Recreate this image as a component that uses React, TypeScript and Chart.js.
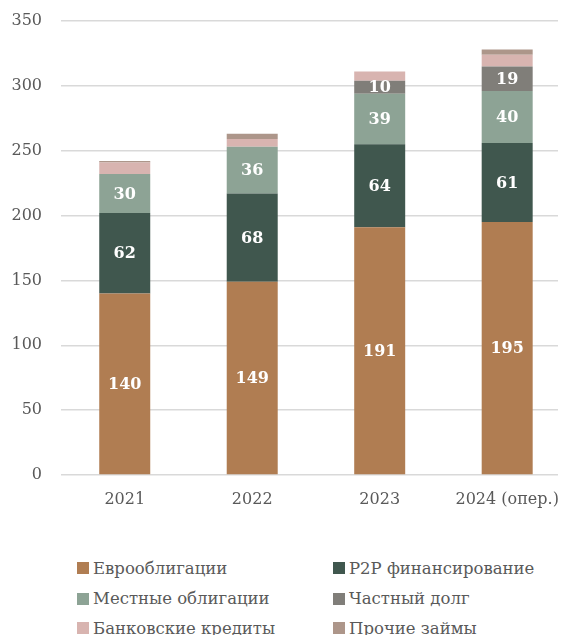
import React, { useEffect, useRef } from "react";
import { Chart, registerables } from "chart.js";

Chart.register(...registerables);

const categories = ["2021", "2022", "2023", "2024 (опер.)"];
const seriesNames = [
  "Еврооблигации",
  "P2P финансирование",
  "Местные облигации",
  "Частный долг",
  "Банковские кредиты",
  "Прочие займы",
];
const eurobonds = [140, 149, 191, 195];
const p2p = [62, 68, 64, 61];
const localBonds = [30, 36, 39, 40];
const privateDebt = [0, 0, 10, 19];
const bankLoans = [9, 6, 7, 9];
const otherLoans = [1, 4, 0, 4];
const seriesColors = ["#B07D52", "#40574E", "#8DA395", "#807E79", "#D8B4B0", "#AD968A"];
const yMin = 0;
const yMax = 350;
const yStep = 50;
const labelThreshold = 10;

const FONT = "'DejaVu Serif', serif";

const legendOrder = [0, 1, 2, 3, 4, 5];

const valueLabels = {
  id: "valueLabels",
  afterDatasetsDraw(chart: any) {
    const ctx = chart.ctx;
    ctx.save();
    ctx.font = `bold 16px ${FONT}`;
    ctx.fillStyle = "#ffffff";
    ctx.textAlign = "center";
    ctx.textBaseline = "middle";
    chart.data.datasets.forEach((ds: any, i: number) => {
      const meta = chart.getDatasetMeta(i);
      meta.data.forEach((bar: any, j: number) => {
        const v = ds.data[j];
        if (v >= labelThreshold) {
          ctx.fillText(String(v), bar.x, (bar.y + bar.base) / 2 + 1);
        }
      });
    });
    ctx.restore();
  },
};

export default function App() {
  const ref = useRef<HTMLCanvasElement>(null);
  useEffect(() => {
    if (!ref.current) return;
    const all = [eurobonds, p2p, localBonds, privateDebt, bankLoans, otherLoans];
    const chart = new Chart(ref.current, {
      type: "bar",
      data: {
        labels: categories,
        datasets: all.map((d, i) => ({
          label: seriesNames[i],
          data: d,
          backgroundColor: seriesColors[i],
          borderWidth: 0,
          categoryPercentage: 1,
          barPercentage: 0.4,
        })),
      },
      options: {
        responsive: false,
        animation: false,
        layout: { padding: { top: 13, right: 1, left: 0, bottom: 0 } },
        plugins: {
          legend: { display: false },
          tooltip: { enabled: false },
        },
        scales: {
          x: {
            stacked: true,
            grid: { display: false, drawTicks: false },
            border: { display: false },
            ticks: {
              color: "#595959",
              font: { family: FONT, size: 16 },
              padding: 15,
            },
            afterFit: (s: any) => {
              s.height = 63;
            },
          },
          y: {
            stacked: true,
            min: yMin,
            max: yMax,
            ticks: {
              stepSize: yStep,
              color: "#595959",
              font: { family: FONT, size: 16 },
              padding: 0,
            },
            grid: {
              color: "#d9d9d9",
              lineWidth: 1.5,
              drawTicks: true,
              tickLength: 19,
              tickColor: "rgba(0,0,0,0)",
            },
            border: { display: false },
            afterFit: (s: any) => {
              s.width = 53;
            },
          },
        },
      },
      plugins: [valueLabels],
    });
    return () => chart.destroy();
  }, []);

  const colLeft = [69, 325];
  const rowCenter = [560, 590.5, 620];

  return (
    <div style={{ position: "relative", width: 558, height: 627, overflow: "hidden" }}>
      <canvas ref={ref} width={566} height={530} style={{ display: "block" }} />
      {legendOrder.map((idx, k) => (
        <div
          key={idx}
          style={{
            position: "absolute",
            left: colLeft[k % 2],
            top: rowCenter[Math.floor(k / 2)] - 12,
            height: 24,
            display: "flex",
            alignItems: "center",
            fontFamily: FONT,
            fontSize: 16.5,
            color: "#595959",
            whiteSpace: "nowrap",
          }}
        >
          <span
            style={{
              display: "inline-block",
              width: 12,
              height: 12,
              background: seriesColors[idx],
              marginRight: 4,
            }}
          />
          <span>{seriesNames[idx]}</span>
        </div>
      ))}
    </div>
  );
}
